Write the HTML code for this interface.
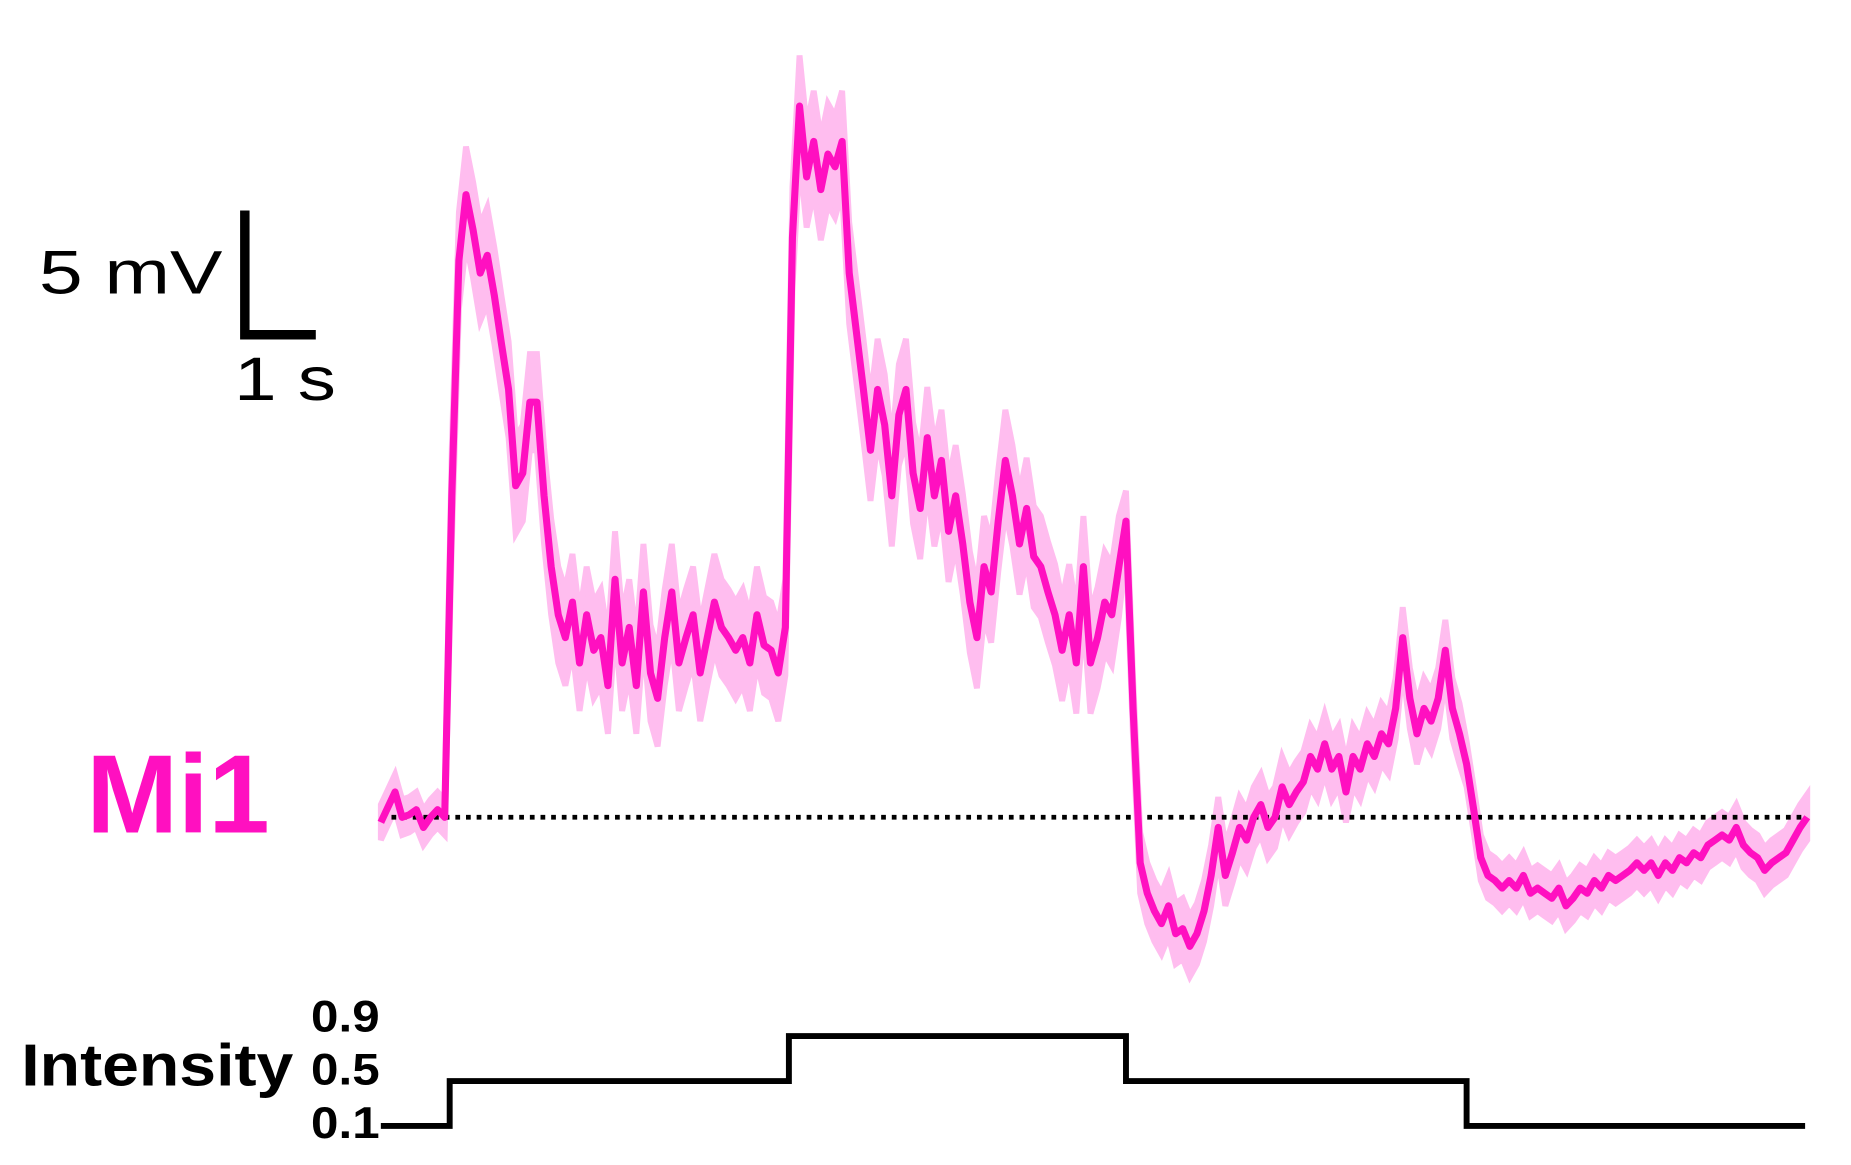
<!DOCTYPE html>
<html><head><meta charset="utf-8"><style>
html,body{margin:0;padding:0;background:#fff;}
svg{display:block;}
text{font-family:"Liberation Sans",sans-serif;}
</style></head><body>
<svg id="chart" width="1851" height="1165" viewBox="0 0 1565 985" preserveAspectRatio="none" xmlns="http://www.w3.org/2000/svg">
<g id="band"></g>
<line x1="322" y1="691" x2="1528" y2="691" stroke="#000" stroke-width="4" stroke-dasharray="4,5"/>
<g id="trace"></g>
<g id="stim"></g>
<path d="M207,178 V283 H267" fill="none" stroke="#000" stroke-width="8"/>
<text x="33" y="248" font-size="52" textLength="155" lengthAdjust="spacingAndGlyphs">5 mV</text>
<text x="198" y="338" font-size="52" textLength="86" lengthAdjust="spacingAndGlyphs">1 s</text>
<text x="73" y="704" font-size="94" font-weight="bold" fill="#ff10c0" textLength="155" lengthAdjust="spacingAndGlyphs">Mi1</text>
<text x="18" y="918" font-size="50" font-weight="bold" textLength="230" lengthAdjust="spacingAndGlyphs">Intensity</text>
<g id="ticks"></g>
</svg>
<script>
const dt = 0.1;
const voltage = [-0.2,0.4,1.0,0.0,0.1,0.3,-0.4,0.0,0.3,0.0,
12.7,22.0,24.6,23.2,21.5,22.2,20.6,18.7,16.9,13.1,
13.6,16.4,16.4,12.7,9.9,8.0,7.1,8.5,6.1,8.0,
6.6,7.1,5.2,9.4,6.1,7.5,5.2,8.9,5.7,4.7,
7.1,8.9,6.1,7.1,8.0,5.7,7.1,8.5,7.5,7.1,
6.6,7.1,6.1,8.0,6.8,6.6,5.7,7.5,22.9,28.1,
25.3,26.7,24.8,26.2,25.7,26.7,21.5,19.2,16.9,14.5,
16.9,15.5,12.7,15.9,16.9,13.6,12.2,15.0,12.7,14.1,
11.3,12.7,10.8,8.5,7.1,9.9,8.9,11.7,14.1,12.7,
10.8,12.2,10.3,9.9,8.9,8.0,6.6,8.0,6.1,9.9,
6.1,7.1,8.5,8.0,9.9,11.7,4.3,-1.8,-3.0,-3.7,
-4.2,-3.5,-4.6,-4.4,-5.1,-4.6,-3.7,-2.3,-0.4,-2.3,
-1.4,-0.4,-0.9,0.0,0.5,-0.4,0.0,1.2,0.5,1.0,
1.4,2.4,1.9,2.9,1.9,2.4,1.0,2.4,1.9,2.9,
2.4,3.3,2.9,4.3,7.1,4.7,3.3,4.3,3.8,4.7,
6.6,4.3,3.3,2.1,0.3,-1.6,-2.3,-2.5,-2.8,-2.5,
-2.8,-2.3,-3.0,-2.8,-3.0,-3.2,-2.8,-3.5,-3.2,-2.8,
-3.0,-2.5,-2.8,-2.3,-2.5,-2.3,-2.1,-1.8,-2.1,-1.8,
-2.3,-1.8,-2.1,-1.6,-1.8,-1.4,-1.6,-1.1,-0.9,-0.7,
-0.9,-0.4,-1.1,-1.4,-1.6,-2.1,-1.8,-1.6,-1.4,-0.9,
-0.4,0.0];
const epochStarts = [0, 0.97, 5.75, 10.5, 15.3];
const epochEnd = 20.07;
const intensities = [0.1, 0.5, 0.9, 0.5, 0.1];
const semByEpoch = [0.7, 1.9, 2.0, 1.2, 0.9];
const tickLabels = ["0.9", "0.5", "0.1"];
const tickValues = [0.9, 0.5, 0.1];

const NS = "http://www.w3.org/2000/svg";
const xS = t => 322 + t * 60;
const yS = v => 691 - v * 21.4;
const yI = v => 952 - (v - 0.1) * 95;
const yLab = v => 962 - (v - 0.1) * 112.5;
function semAt(t){ let k=0; for(let j=0;j<epochStarts.length;j++) if(t>=epochStarts[j]) k=j; return semByEpoch[k]; }

const up=[], dn=[], mid=[];
voltage.forEach((v,i)=>{const t=i*dt; const s=semAt(t);
  up.push(xS(t).toFixed(1)+","+yS(v+s).toFixed(1));
  dn.unshift(xS(t).toFixed(1)+","+yS(v-s).toFixed(1));
  mid.push(xS(t).toFixed(1)+","+yS(v).toFixed(1));});
const band=document.createElementNS(NS,"polygon");
band.setAttribute("points",up.concat(dn).join(" "));
band.setAttribute("fill","#ffbdef");
band.setAttribute("stroke","#ffbdef");
band.setAttribute("stroke-width","5");


document.getElementById("band").appendChild(band);
const line=document.createElementNS(NS,"polyline");
line.setAttribute("points",mid.join(" "));
line.setAttribute("fill","none");
line.setAttribute("stroke","#ff10c0");
line.setAttribute("stroke-width","6");
line.setAttribute("stroke-linejoin","round");


document.getElementById("trace").appendChild(line);

let d="";
intensities.forEach((v,j)=>{const t0=epochStarts[j]; const t1=j+1<epochStarts.length?epochStarts[j+1]:epochEnd;
  d += (j===0?"M":"L")+xS(t0)+","+yI(v)+" L"+xS(t1)+","+yI(v)+" ";});
const st=document.createElementNS(NS,"path");
st.setAttribute("d",d);
st.setAttribute("fill","none");
st.setAttribute("stroke","#000");
st.setAttribute("stroke-width","5");


document.getElementById("stim").appendChild(st);

tickValues.forEach((v,j)=>{const tx=document.createElementNS(NS,"text");
  tx.setAttribute("x","263"); tx.setAttribute("y",yLab(v).toFixed(1));
  tx.setAttribute("font-size","38"); tx.setAttribute("font-weight","bold");
  tx.setAttribute("textLength","58"); tx.setAttribute("lengthAdjust","spacingAndGlyphs");
  tx.textContent=tickLabels[j];
  
  
  document.getElementById("ticks").appendChild(tx);});
</script>
</body></html>
